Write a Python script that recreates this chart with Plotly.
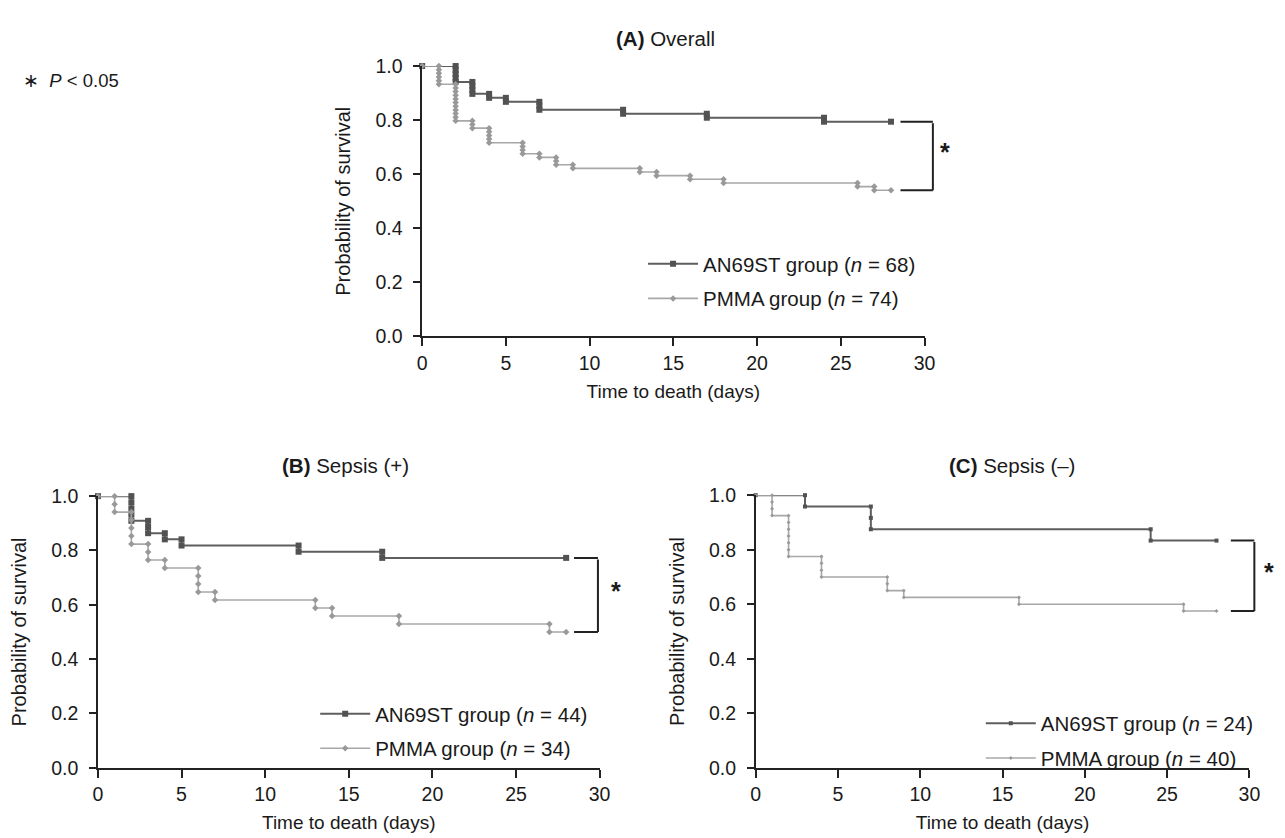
import plotly.graph_objects as go

W, H = 1285, 838
END_DAY = 28

# ---------------- data ----------------
# Panel A: overall
A_an_n = 68
A_an_days = [2, 3, 4, 5, 7, 12, 17, 24]
A_an_deaths = [4, 3, 1, 1, 2, 1, 1, 1]
A_pm_n = 74
A_pm_days = [1, 2, 3, 4, 6, 7, 8, 9, 13, 14, 16, 18, 26, 27]
A_pm_deaths = [5, 10, 2, 4, 3, 1, 2, 1, 1, 1, 1, 1, 1, 1]

# Panel B: sepsis (+)
B_an_n = 44
B_an_days = [2, 3, 4, 5, 12, 17]
B_an_deaths = [4, 2, 1, 1, 1, 1]
B_pm_n = 34
B_pm_days = [1, 2, 3, 4, 6, 7, 13, 14, 18, 27]
B_pm_deaths = [2, 4, 2, 1, 3, 1, 1, 1, 1, 1]

# Panel C: sepsis (-)
C_an_n = 24
C_an_days = [3, 7, 24]
C_an_deaths = [1, 2, 1]
C_pm_n = 40
C_pm_days = [1, 2, 4, 8, 9, 16, 26]
C_pm_deaths = [3, 6, 3, 2, 1, 1, 1]

x_ticks = [0, 5, 10, 15, 20, 25, 30]
y_ticks = [0.0, 0.2, 0.4, 0.6, 0.8, 1.0]

FONT = "Liberation Sans, Arial, Helvetica, sans-serif"
TXT = "#1a1a1a"
AN_LINE, AN_MARK = "#5e5e5e", "#525252"
PM_LINE, PM_MARK = "#a8a8a8", "#999999"
X_MAX = 30


def km_points(n, days, deaths, end_day):
    xs, ys = [0], [1.0]
    alive = n
    for d, k in zip(days, deaths):
        xs.append(d)
        ys.append(alive / n)
        for _ in range(k):
            alive -= 1
            xs.append(d)
            ys.append(alive / n)
    xs.append(end_day)
    ys.append(alive / n)
    return xs, ys


def xdom(p0, p1):
    return [p0 / W, p1 / W]


def ydom(top, bottom):
    return [1 - bottom / H, 1 - top / H]


panels = [
    dict(key="A", title="<b>(A)</b> Overall", xs="x", ys="y", lg="legend",
         xd=xdom(414.3, 923), yd=ydom(48.3, 326),
         an=(A_an_n, A_an_days, A_an_deaths), pm=(A_pm_n, A_pm_days, A_pm_deaths),
         msize_an=6, msize_pm=5, title_px=(661, 20),
         leg_px=(638, 231), brk=(28.5, 30.5, 31.2)),
    dict(key="B", title="<b>(B)</b> Sepsis (+)", xs="x2", ys="y2", lg="legend2",
         xd=xdom(86, 594), yd=ydom(490, 769),
         an=(B_an_n, B_an_days, B_an_deaths), pm=(B_pm_n, B_pm_days, B_pm_deaths),
         msize_an=6, msize_pm=5, title_px=(337, 459),
         leg_px=(306, 693), brk=(28.4, 29.9, 31.0)),
    dict(key="C", title="<b>(C)</b> Sepsis (–)", xs="x3", ys="y3", lg="legend3",
         xd=xdom(752, 1252), yd=ydom(489, 769),
         an=(C_an_n, C_an_days, C_an_deaths), pm=(C_pm_n, C_pm_days, C_pm_deaths),
         msize_an=4, msize_pm=3, title_px=(1012, 459),
         leg_px=(980, 703), brk=(28.8, 30.3, 31.2)),
]

fig = go.Figure()
annotations = []
layout_axes = {}

for i, p in enumerate(panels):
    an_n, an_d, an_k = p["an"]
    pm_n, pm_d, pm_k = p["pm"]
    ax, ay = km_points(an_n, an_d, an_k, END_DAY)
    px_, py_ = km_points(pm_n, pm_d, pm_k, END_DAY)

    fig.add_trace(go.Scatter(
        x=ax, y=ay, mode="lines+markers", line_shape="hv",
        line=dict(color=AN_LINE, width=2),
        marker=dict(symbol="square", size=p["msize_an"], color=AN_MARK),
        name=f"AN69ST group (<i>n</i> = {an_n})",
        xaxis=p["xs"], yaxis=p["ys"], legend=p["lg"], legendgroup=p["key"] + "an",
        cliponaxis=False))
    fig.add_trace(go.Scatter(
        x=px_, y=py_, mode="lines+markers", line_shape="hv",
        line=dict(color=PM_LINE, width=1.6),
        marker=dict(symbol="diamond", size=p["msize_pm"], color=PM_MARK),
        name=f"PMMA group (<i>n</i> = {pm_n})",
        xaxis=p["xs"], yaxis=p["ys"], legend=p["lg"], legendgroup=p["key"] + "pm",
        cliponaxis=False))

    suffix = "" if i == 0 else str(i + 1)
    layout_axes["xaxis" + suffix] = dict(
        domain=p["xd"], range=[0, X_MAX], anchor=p["ys"],
        tickmode="array", tickvals=x_ticks, ticktext=[str(t) for t in x_ticks],
        ticks="outside", ticklen=8, tickwidth=1.5, tickcolor="#222",
        showline=True, linecolor="#222", linewidth=1.5,
        showgrid=False, zeroline=False,
        tickfont=dict(family=FONT, size=19.5, color=TXT),
        title=dict(text="Time to death (days)", standoff=12,
                   font=dict(family=FONT, size=19, color=TXT)),
    )
    layout_axes["yaxis" + suffix] = dict(
        domain=p["yd"], range=[0, 1], anchor=p["xs"],
        tickmode="array", tickvals=y_ticks, ticktext=[f"{t:.1f}" for t in y_ticks],
        ticks="outside", ticklen=7, tickwidth=1.5, tickcolor="#222",
        showline=True, linecolor="#222", linewidth=1.5,
        showgrid=False, zeroline=False, ticklabelstandoff=7,
        tickfont=dict(family=FONT, size=19.5, color=TXT),
        title=dict(text="Probability of survival", standoff=19,
                   font=dict(family=FONT, size=20, color=TXT)),
    )

    # significance bracket between the two curve ends
    top, bot = ay[-1], py_[-1]
    yr = p["ys"]
    b0, b1, bstar = p["brk"]
    d0, d1 = p["xd"]

    def to_paper(v):
        return d0 + v / X_MAX * (d1 - d0)

    px_per_day = (d1 - d0) * W / X_MAX
    seg_px = (b1 - b0) * px_per_day
    for lvl in (top, bot):
        annotations.append(dict(
            xref="paper", yref=yr, x=to_paper(b1), y=lvl,
            axref="pixel", ax=-seg_px, ayref="pixel", ay=0,
            text="", showarrow=True, arrowhead=0, arrowwidth=2, arrowcolor="#222",
            standoff=0, startstandoff=0))
    annotations.append(dict(
        xref="paper", yref=yr, x=to_paper(b1), y=bot,
        axref="pixel", ax=0, ayref=yr, ay=top,
        text="", showarrow=True, arrowhead=0, arrowwidth=2, arrowcolor="#222",
        standoff=0, startstandoff=0))
    annotations.append(dict(xref="paper", yref=yr, x=to_paper(bstar), y=(top + bot) / 2 + 0.015,
                            text="<b>*</b>", showarrow=False, xanchor="center", yanchor="middle",
                            font=dict(family=FONT, size=25, color=TXT)))

    # panel title
    tx, ty = p["title_px"]
    annotations.append(dict(xref="paper", yref="paper", x=tx / W, y=1 - ty / H,
                            text=p["title"], showarrow=False, xanchor="center", yanchor="middle",
                            font=dict(family=FONT, size=20.5, color=TXT)))

    lx, ly = p["leg_px"]
    layout_axes[p["lg"]] = dict(
        x=lx / W, y=1 - ly / H, xanchor="left", yanchor="top",
        bgcolor="rgba(0,0,0,0)", borderwidth=0,
        font=dict(family=FONT, size=20.5, color=TXT),
        itemwidth=50, traceorder="grouped", tracegroupgap=5,
    )

annotations.append(dict(xref="paper", yref="paper", x=8 / W, y=1 - 63 / H,
                        text="∗  <i>P</i> < 0.05", showarrow=False, xanchor="left", yanchor="middle",
                        font=dict(family=FONT, size=18.5, color=TXT)))

fig.update_layout(
    width=W, height=H,
    margin=dict(l=0, r=0, t=0, b=0),
    paper_bgcolor="white", plot_bgcolor="white",
    showlegend=True,
    annotations=annotations,
    **layout_axes,
)

fig.write_html("out.html")
